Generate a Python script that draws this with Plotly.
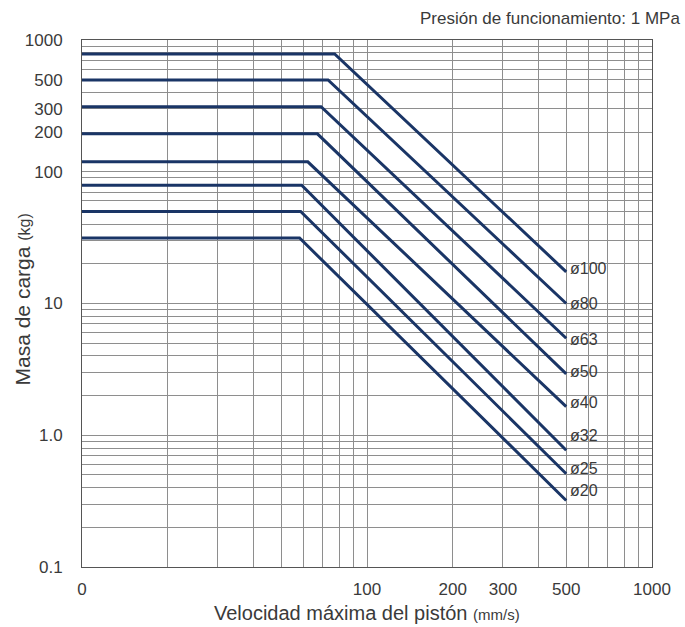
import math
import plotly.graph_objects as go

# Data
bores = ["ø100", "ø80", "ø63", "ø50", "ø40", "ø32", "ø25", "ø20"]
plateau_kg = [783, 497, 312, 194, 119, 79, 50, 31.4]
knee_speed = [77, 73, 69, 67, 62, 59, 58.5, 58]
end_speed = 500
end_kg = [17.4, 10.0, 5.45, 2.92, 1.65, 0.77, 0.51, 0.32]
speed_start = 10

x_tickvals = [10, 20, 30, 40, 50, 60, 70, 80, 90,
              100, 200, 300, 400, 500, 600, 700, 800, 900, 1000]
x_ticktext = ["0", "", "", "", "", "", "", "", "",
              "100", "200", "300", "", "500", "", "", "", "", "1000"]
y_tickvals = [0.1, 0.2, 0.3, 0.4, 0.5, 0.6, 0.7, 0.8, 0.9,
              1, 2, 3, 4, 5, 6, 7, 8, 9,
              10, 20, 30, 40, 50, 60, 70, 80, 90,
              100, 200, 300, 400, 500, 600, 700, 800, 900, 1000]
y_labels = {0.1: "0.1", 1: "1.0", 10: "10", 100: "100", 200: "200",
            300: "300", 500: "500", 1000: "1000"}
y_ticktext = [y_labels.get(v, "") for v in y_tickvals]

label_yshift = [3, 0, -1, 2, 4, 15, 5, 10]

LINE = "#1a3566"
GRID = "#8e8e8e"
TXT = "#3a3a3a"
FONT = "Liberation Sans, Arial, sans-serif"

fig = go.Figure()
for name, p, k, e in zip(bores, plateau_kg, knee_speed, end_kg):
    fig.add_trace(go.Scatter(
        x=[speed_start, k, end_speed], y=[p, p, e],
        mode="lines", name=name,
        line=dict(color=LINE, width=3),
        showlegend=False, hoverinfo="skip"))

for name, e, ys in zip(bores, end_kg, label_yshift):
    fig.add_annotation(x=math.log10(end_speed), y=math.log10(e), xref="x", yref="y",
                       text=name, showarrow=False, xanchor="left", yanchor="middle",
                       xshift=2, yshift=ys,
                       font=dict(family=FONT, size=16, color=TXT))

fig.add_annotation(x=1, y=1, xref="paper", yref="paper",
                   text="Presión de funcionamiento: 1 MPa", showarrow=False,
                   xanchor="right", yanchor="middle", xshift=30, yshift=22,
                   font=dict(family=FONT, size=17, color=TXT))

fig.add_annotation(x=0.5, y=0, xref="paper", yref="paper",
                   text="Velocidad máxima del pistón <span style='font-size:15px'>(mm/s)</span>",
                   showarrow=False, xanchor="center", yanchor="middle", yshift=-46,
                   font=dict(family=FONT, size=20, color=TXT))

fig.add_annotation(x=0, y=0.5, xref="paper", yref="paper",
                   text="Masa de carga <span style='font-size:16px'>(kg)</span>",
                   showarrow=False, xanchor="center", yanchor="middle", xshift=-60,
                   yshift=4, textangle=-90,
                   font=dict(family=FONT, size=21, color=TXT))

fig.update_xaxes(type="log", range=[1, 3], automargin=False,
                 tickvals=x_tickvals, ticktext=x_ticktext,
                 showgrid=True, gridcolor=GRID, gridwidth=1,
                 showline=True, linecolor="#555555", linewidth=1, mirror=True,
                 ticks="", ticklabelstandoff=7, zeroline=False,
                 tickfont=dict(family=FONT, size=17, color=TXT))
fig.update_yaxes(type="log", range=[-1, 3], automargin=False,
                 tickvals=y_tickvals, ticktext=y_ticktext,
                 showgrid=True, gridcolor=GRID, gridwidth=1,
                 showline=True, linecolor="#555555", linewidth=1, mirror=True,
                 ticks="", ticklabelstandoff=15, zeroline=False,
                 tickfont=dict(family=FONT, size=17, color=TXT))

fig.update_layout(width=685, height=627,
                  margin=dict(l=82, r=33, t=40, b=60, autoexpand=False),
                  paper_bgcolor="white", plot_bgcolor="white")

fig.write_html("out.html", config={"displayModeBar": False},
               post_script="document.body.style.margin='0';document.body.style.overflow='hidden';")
